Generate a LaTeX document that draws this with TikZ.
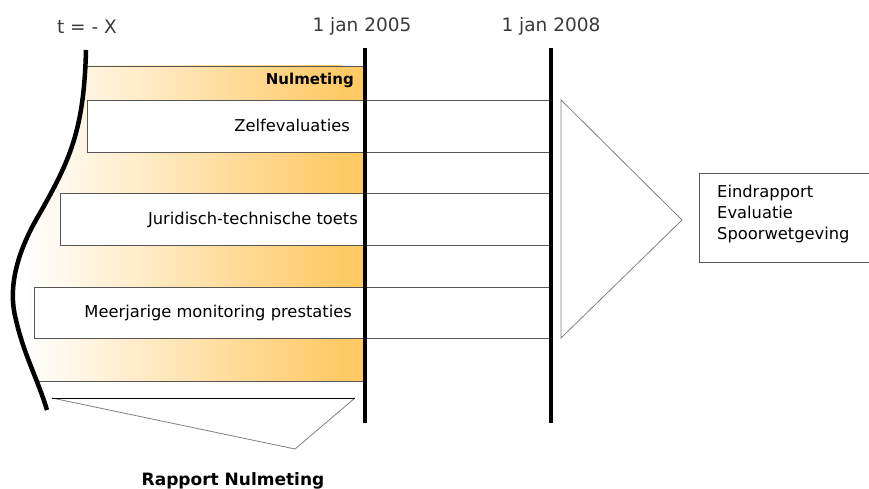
\documentclass[tikz,border=0pt]{standalone}
\usepackage{fontspec}
\setmainfont{DejaVu Sans}
\definecolor{band}{HTML}{FFC966}
\definecolor{rulegray}{HTML}{555555}
\definecolor{labelgray}{HTML}{3A3A3A}
\begin{document}
\begin{tikzpicture}[x=1pt,y=-1pt,
  thinrule/.style={draw=rulegray,line width=0.8pt},
  box/.style={thinrule,fill=white},
  boxlabel/.style={anchor=base east,inner sep=0pt,font=\fontsize{16.3}{19}\selectfont},
  datelabel/.style={anchor=base,inner sep=0pt,text=labelgray,font=\fontsize{18.5}{22}\selectfont},
  reportlabel/.style={anchor=base west,inner sep=0pt,font=\fontsize{16.3}{19}\selectfont},
  timeline/.style={line width=4.5pt}]
\useasboundingbox (0,0) rectangle (869,489);

% shaded band between the start curve and 1 jan 2005
\begin{scope}
  \clip (86,50) .. controls (84,130) and (70,160) .. (40,213)
        .. controls (15,255) and (8,290) .. (16,320)
        .. controls (24,355) and (38,380) .. (47,410)
        -- (365,410) -- (365,50) -- cycle;
  \clip (0,66) rectangle (365,381);
  \shade[left color=white,right color=band] (25,66) rectangle (342,381);
  \fill[band] (341,66) rectangle (366,381);
\end{scope}

% band outline
\coordinate (bandTL) at (86,66);
\coordinate (bandTR) at (365,66);
\coordinate (bandBL) at (39,381);
\coordinate (bandBR) at (365,381);
\draw[thinrule] (bandTL) -- (bandTR);
\draw[thinrule] (bandBL) -- (bandBR);

% activity boxes
\draw[box] (87,100) rectangle (551,152);
\draw[box] (60,193) rectangle (551,245);
\draw[box] (34,287) rectangle (551,338);

\node[boxlabel,font=\fontsize{15}{18}\selectfont\bfseries] (nul) at (354,85) {Nulmeting};
\node[boxlabel] (zelf) at (350,132) {Zelfevaluaties};
\node[boxlabel] (jur) at (358,224) {Juridisch-technische toets};
\node[boxlabel] (meer) at (352,317) {Meerjarige monitoring prestaties};

% time axis
\draw[timeline] (86,50) .. controls (84,130) and (70,160) .. (40,213)
        .. controls (15,255) and (8,290) .. (16,320)
        .. controls (24,355) and (38,380) .. (47,410);
\coordinate (t5top) at (365,48);
\coordinate (t5bot) at (365,423);
\coordinate (t8top) at (551,48);
\coordinate (t8bot) at (551,423);
\draw[timeline] (t5top) -- (t5bot);
\draw[timeline] (t8top) -- (t8bot);

\node[datelabel] (tx) at (87,34) {t = - X};
\node[datelabel] (d5) at (362,32) {1 jan 2005};
\node[datelabel] (d8) at (551,32) {1 jan 2008};

% funnel to the final report
\coordinate (fA) at (561,100);
\coordinate (fB) at (682,220);
\coordinate (fC) at (561,338);
\draw[thinrule,draw=gray] (fA) -- (fB) -- (fC) -- cycle;

\draw[box] (699,173) rectangle (875,262);
\node[reportlabel] (e1) at (717,197) {Eindrapport};
\node[reportlabel] (e2) at (717,218) {Evaluatie};
\node[reportlabel] (e3) at (717,239) {Spoorwetgeving};

% funnel to the baseline report
\coordinate (rA) at (52,398);
\coordinate (rB) at (355,398);
\coordinate (rC) at (295,449);
\draw[thinrule,draw=gray] (rA) -- (rC) -- (rB);
\draw[thinrule,draw=black] (rA) -- (rB);
\node[anchor=base,inner sep=0pt,font=\fontsize{17}{20}\selectfont\bfseries] (rap) at (233,485) {Rapport Nulmeting};
\end{tikzpicture}
\end{document}
